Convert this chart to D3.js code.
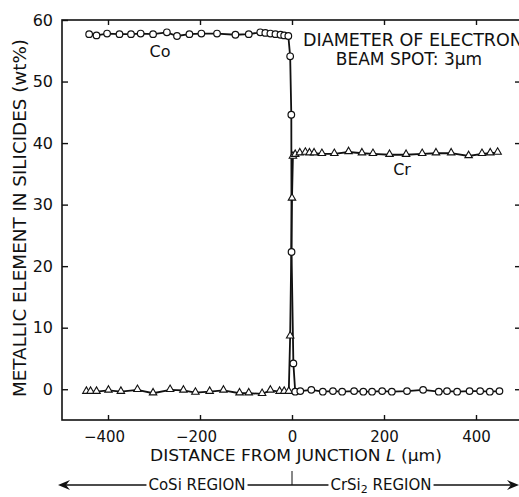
<!DOCTYPE html>
<html>
<head>
<meta charset="utf-8">
<script src="https://cdn.jsdelivr.net/npm/d3@7"></script>
<style>
  body { margin: 0; background: #fff; }
  svg { display: block; }
  text { font-family: "DejaVu Sans", sans-serif; fill: #111; }
</style>
</head>
<body>
<div id="chart"></div>
<script>
"use strict";

// Co concentration (circles), left plateau -> junction drop -> right plateau
const coX = [-441, -425, -402, -375, -350, -329, -302, -272, -250, -223, -197, -163, -123, -94,
  -69, -58, -47, -36, -25, -17, -8, -4, -1.5, -1, 3,
  7, 18, 42, 67, 89, 109, 135, 155, 174, 196, 217, 250, 285, 319, 337, 359, 386, 409, 430, 451]
const coY = [57.7, 57.5, 57.8, 57.7, 57.7, 57.8, 57.7, 58.0, 57.4, 57.7, 57.8, 57.8, 57.6, 57.7,
  58.0, 57.9, 57.8, 57.7, 57.6, 57.5, 57.4, 54.1, 44.6, 22.3, 4.2,
  -0.4, -0.3, -0.1, -0.4, -0.3, -0.4, -0.3, -0.4, -0.4, -0.3, -0.4, -0.3, -0.1, -0.4, -0.3, -0.4, -0.3, -0.3, -0.4, -0.3]

// Cr concentration (triangles)
const crX = [-447, -438, -425, -399, -372, -336, -302, -265, -236, -210, -179, -149, -114, -94,
  -65, -47, -27, -17, -7, -4, 0, 2,
  7, 17, 29, 38, 48, 65, 92, 123, 152, 176, 212, 248, 283, 313, 346, 384, 413, 431, 447]
const crY = [-0.4, -0.4, -0.4, -0.2, -0.4, -0.1, -0.65, -0.1, -0.2, -0.55, -0.4, -0.2, -0.65, -0.65,
  -0.75, -0.2, -0.4, -0.4, -0.4, 8.6, 31, 37.8,
  38.1, 38.35, 38.45, 38.35, 38.35, 38.25, 38.25, 38.55, 38.35, 38.25, 38.1, 38.1, 38.25, 38.35, 38.35, 37.9, 38.25, 38.35, 38.45]

const xTicks = [-400, -200, 0, 200, 400]
const yTicks = [0, 10, 20, 30, 40, 50, 60]

const width = 519
  , height = 497

const svg = d3.select('#chart').append('svg')
  .attr('width', width)
  .attr('height', height)

const xScale = d3.scaleLinear().domain([-500, 500]).range([62, 522])
const yScale = d3.scaleLinear().domain([-5, 60]).range([420, 20])

const [x0, x1] = xScale.range()
  , [y0, y1] = yScale.range()

/*
 * Frame and inward ticks on all four sides
 ***/
svg.append('rect')
  .attr('x', x0).attr('y', y1)
  .attr('width', x1 - x0).attr('height', y0 - y1)
  .attr('fill', 'none')
  .attr('stroke', '#111')
  .attr('stroke-width', 1.6)

const fmt = d => d < 0 ? '\u2212' + Math.abs(d) : String(d)

const bottomAxis = svg.append('g')
  .attr('transform', `translate(0,${y0})`)
  .call(d3.axisBottom(xScale).tickValues(xTicks).tickSize(-5).tickPadding(11).tickFormat(fmt))

const topAxis = svg.append('g')
  .attr('transform', `translate(0,${y1})`)
  .call(d3.axisTop(xScale).tickValues(xTicks).tickSize(-5).tickFormat(''))

const leftAxis = svg.append('g')
  .attr('transform', `translate(${x0},0)`)
  .call(d3.axisLeft(yScale).tickValues(yTicks).tickSize(-6).tickPadding(9).tickFormat(d3.format('d')))

const rightAxis = svg.append('g')
  .attr('transform', `translate(${x1},0)`)
  .call(d3.axisRight(yScale).tickValues(yTicks.slice(0, -1)).tickSize(-7).tickFormat(''))

;[bottomAxis, topAxis, leftAxis, rightAxis].forEach(g => {
  g.select('.domain').remove()
  g.selectAll('line').attr('stroke', '#111').attr('stroke-width', 1.4)
  g.selectAll('text')
    .style('font-family', '"DejaVu Sans", sans-serif')
    .style('font-size', '16px')
    .attr('fill', '#111')
})

bottomAxis.selectAll('text').style('font-size', '15px')

// negative labels: centre the digits, not the minus sign, on the tick
bottomAxis.selectAll('text').attr('dx', d => d < 0 ? -4 : 0)

/*
 * Curves and markers
 ***/
const line = d3.line()
  .x(d => xScale(d[0]))
  .y(d => yScale(d[1]))

const coData = coX.map((x, i) => [x, coY[i]])
  , crData = crX.map((x, i) => [x, crY[i]])

svg.append('path')
  .datum(crData)
  .attr('d', line)
  .attr('fill', 'none')
  .attr('stroke', '#111')
  .attr('stroke-width', 1.8)

svg.append('path')
  .datum(coData)
  .attr('d', line)
  .attr('fill', 'none')
  .attr('stroke', '#111')
  .attr('stroke-width', 1.8)

const tri = d3.symbol().type(d3.symbolTriangle).size(24)

svg.append('g').selectAll('path')
  .data(crData)
  .enter()
  .append('path')
  .attr('d', tri)
  .attr('transform', d => `translate(${xScale(d[0])},${yScale(d[1]) - 0.5})`)
  .attr('fill', '#fff')
  .attr('stroke', '#111')
  .attr('stroke-width', 1.1)

svg.append('g').selectAll('circle')
  .data(coData)
  .enter()
  .append('circle')
  .attr('cx', d => xScale(d[0]))
  .attr('cy', d => yScale(d[1]))
  .attr('r', 3.3)
  .attr('fill', '#fff')
  .attr('stroke', '#111')
  .attr('stroke-width', 1.2)

/*
 * Labels
 ***/
svg.append('text')
  .attr('x', 160).attr('y', 57)
  .attr('text-anchor', 'middle')
  .style('font-size', '16px')
  .text('Co')

svg.append('text')
  .attr('x', 402).attr('y', 175)
  .attr('text-anchor', 'middle')
  .style('font-size', '16px')
  .text('Cr')

svg.append('text')
  .attr('x', 303).attr('y', 46)
  .attr('textLength', 220)
  .attr('lengthAdjust', 'spacingAndGlyphs')
  .style('font-size', '17px')
  .text('DIAMETER OF ELECTRON')

svg.append('text')
  .attr('x', 409).attr('y', 65)
  .attr('text-anchor', 'middle')
  .style('font-size', '17px')
  .text('BEAM SPOT: 3\u03bcm')

svg.append('text')
  .attr('transform', 'translate(26,218) rotate(-90)')
  .attr('text-anchor', 'middle')
  .attr('textLength', 358)
  .attr('lengthAdjust', 'spacingAndGlyphs')
  .style('font-size', '17px')
  .text('METALLIC ELEMENT IN SILICIDES (wt%)')

const xTitle = svg.append('text')
  .attr('x', 296).attr('y', 461)
  .attr('text-anchor', 'middle')
  .attr('textLength', 292)
  .attr('lengthAdjust', 'spacingAndGlyphs')
  .style('font-size', '15px')
xTitle.append('tspan').text('DISTANCE FROM JUNCTION ')
xTitle.append('tspan').style('font-style', 'italic').text('L')
xTitle.append('tspan').text(' (\u03bcm)')

/*
 * Region arrow under the chart
 ***/
const arrowY = 485

const coSi = svg.append('text')
  .attr('x', 197).attr('y', arrowY + 5)
  .attr('text-anchor', 'middle')
  .style('font-size', '15px')
  .text('CoSi REGION')

const crSi = svg.append('text')
  .attr('x', 381).attr('y', arrowY + 5)
  .attr('text-anchor', 'middle')
  .style('font-size', '15px')
crSi.append('tspan').text('CrSi')
crSi.append('tspan').attr('dy', 3).style('font-size', '11px').text('2')
crSi.append('tspan').attr('dy', -3).text(' REGION')

const b1 = coSi.node().getBBox()
  , b2 = crSi.node().getBBox()

const segs = [[62, b1.x - 2], [b1.x + b1.width + 2, b2.x - 2], [b2.x + b2.width + 2, 514]]

svg.append('g').selectAll('line')
  .data(segs)
  .enter()
  .append('line')
  .attr('x1', d => d[0]).attr('x2', d => d[1])
  .attr('y1', arrowY).attr('y2', arrowY)
  .attr('stroke', '#111')
  .attr('stroke-width', 1.3)

svg.append('line')
  .attr('x1', xScale(0)).attr('x2', xScale(0))
  .attr('y1', arrowY - 14).attr('y2', arrowY)
  .attr('stroke', '#111')
  .attr('stroke-width', 1)

svg.append('path')
  .attr('d', `M58,${arrowY} L70,${arrowY - 5} L66,${arrowY} L70,${arrowY + 5} Z`)
  .attr('fill', '#111')

svg.append('path')
  .attr('d', `M519,${arrowY} L507,${arrowY - 5} L511,${arrowY} L507,${arrowY + 5} Z`)
  .attr('fill', '#111')
</script>
</body>
</html>
